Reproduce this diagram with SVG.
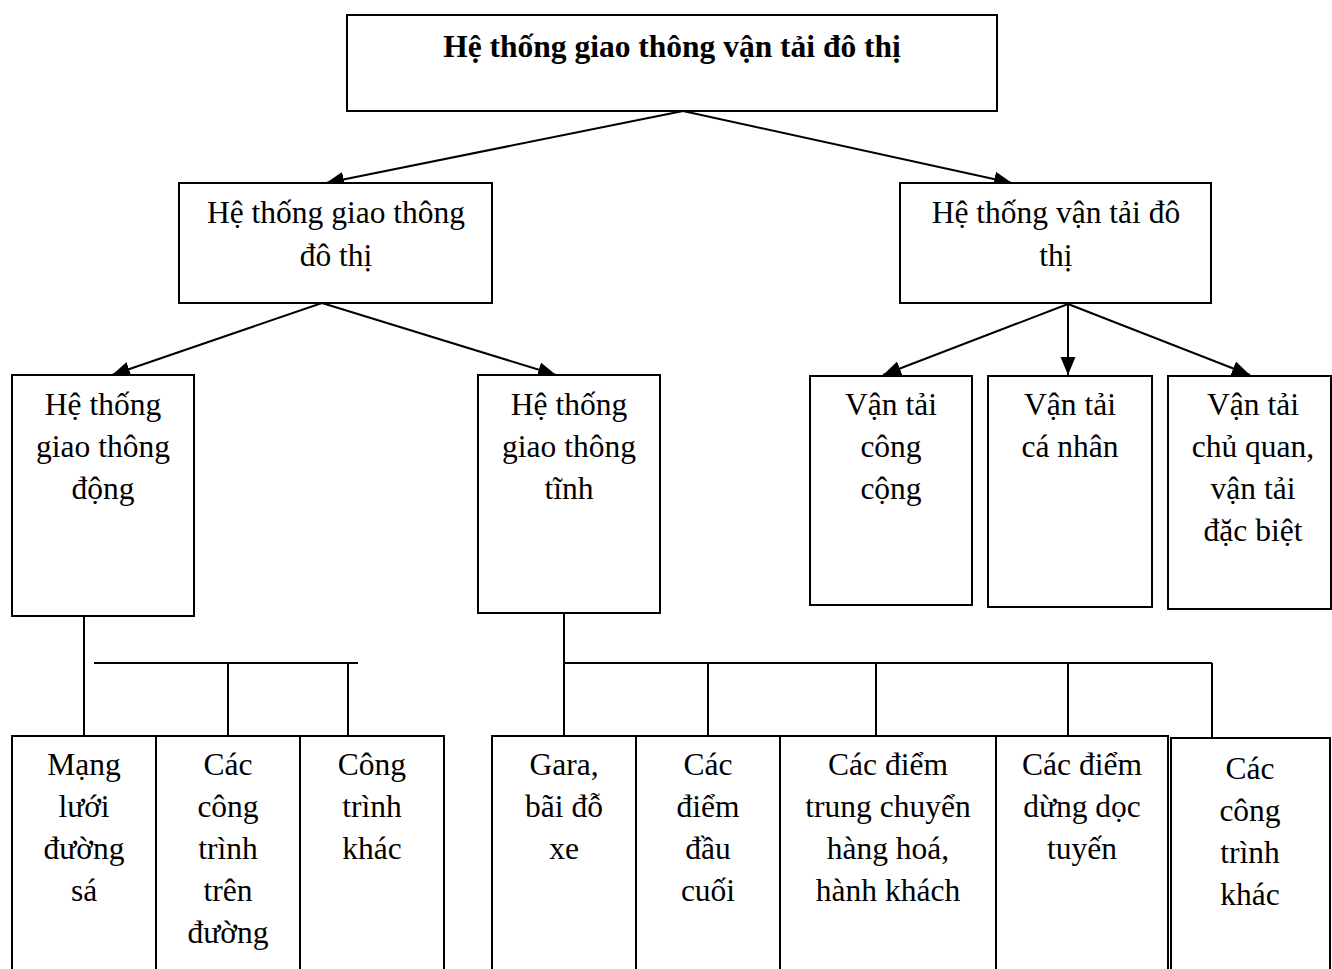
<svg xmlns="http://www.w3.org/2000/svg" width="1332" height="969" viewBox="0 0 1332 969">
<defs>
<marker id="arr" markerUnits="userSpaceOnUse" markerWidth="20" markerHeight="16" refX="18" refY="7.5" orient="auto">
<path d="M0,0 L18,7.5 L0,15 z" fill="#000"/>
</marker>
<style>
rect{fill:#fff;stroke:#000;stroke-width:2}
text{font-size:31.5px;fill:#000;text-anchor:middle}
.b{font-weight:bold}
.c line{stroke:#000;stroke-width:2;fill:none}
.a{marker-end:url(#arr)}
</style>
</defs>
<rect x="0" y="0" width="1332" height="969" style="stroke:none"/>
<g class="c" id="connectors">
<line class="a" x1="683" y1="111" x2="326" y2="183"/>
<line class="a" x1="683" y1="111" x2="1012" y2="183"/>
<line class="a" x1="322" y1="303" x2="112" y2="375"/>
<line class="a" x1="322" y1="303" x2="556" y2="375"/>
<line class="a" x1="1068" y1="304" x2="883" y2="375"/>
<line class="a" x1="1068" y1="304" x2="1068" y2="375"/>
<line class="a" x1="1068" y1="304" x2="1250" y2="375"/>
<line x1="84" y1="616" x2="84" y2="736"/>
<line x1="94" y1="663" x2="358" y2="663"/>
<line x1="228" y1="663" x2="228" y2="736"/>
<line x1="348" y1="663" x2="348" y2="736"/>
<line x1="564" y1="613" x2="564" y2="736"/>
<line x1="563" y1="663" x2="1212" y2="663"/>
<line x1="708" y1="663" x2="708" y2="736"/>
<line x1="876" y1="663" x2="876" y2="736"/>
<line x1="1068" y1="663" x2="1068" y2="736"/>
<line x1="1212" y1="663" x2="1212" y2="738"/>
</g>
<g font-family="Liberation Serif, Times New Roman, serif">
<g id="root"><rect x="347" y="15" width="650" height="96"/><text class="b" x="672" y="57">Hệ thống giao thông vận tải đô thị</text></g>
<g id="giaothong"><rect x="179" y="183" width="313" height="120"/><text x="336" y="223">Hệ thống giao thông</text><text x="336" y="266">đô thị</text></g>
<g id="vantai"><rect x="900" y="183" width="311" height="120"/><text x="1056" y="223">Hệ thống vận tải đô</text><text x="1056" y="266">thị</text></g>
<g id="dong"><rect x="12" y="375" width="182" height="241"/><text x="103" y="415">Hệ thống</text><text x="103" y="457">giao thông</text><text x="103" y="499">động</text></g>
<g id="tinh"><rect x="478" y="375" width="182" height="238"/><text x="569" y="415">Hệ thống</text><text x="569" y="457">giao thông</text><text x="569" y="499">tĩnh</text></g>
<g id="congcong"><rect x="810" y="376" width="162" height="229"/><text x="891" y="415">Vận tải</text><text x="891" y="457">công</text><text x="891" y="499">cộng</text></g>
<g id="canhan"><rect x="988" y="376" width="164" height="231"/><text x="1070" y="415">Vận tải</text><text x="1070" y="457">cá nhân</text></g>
<g id="chuquan"><rect x="1168" y="376" width="163" height="233"/><text x="1253" y="415">Vận tải</text><text x="1253" y="457">chủ quan,</text><text x="1253" y="499">vận tải</text><text x="1253" y="541">đặc biệt</text></g>
<g id="mangluoi"><rect x="12" y="736" width="144" height="250"/><text x="84" y="775">Mạng</text><text x="84" y="817">lưới</text><text x="84" y="859">đường</text><text x="84" y="901">sá</text></g>
<g id="congtrinhduong"><rect x="156" y="736" width="144" height="250"/><text x="228" y="775">Các</text><text x="228" y="817">công</text><text x="228" y="859">trình</text><text x="228" y="901">trên</text><text x="228" y="943">đường</text></g>
<g id="congtrinhkhac1"><rect x="300" y="736" width="144" height="250"/><text x="372" y="775">Công</text><text x="372" y="817">trình</text><text x="372" y="859">khác</text></g>
<g id="gara"><rect x="492" y="736" width="144" height="250"/><text x="564" y="775">Gara,</text><text x="564" y="817">bãi đỗ</text><text x="564" y="859">xe</text></g>
<g id="daucuoi"><rect x="636" y="736" width="144" height="250"/><text x="708" y="775">Các</text><text x="708" y="817">điểm</text><text x="708" y="859">đầu</text><text x="708" y="901">cuối</text></g>
<g id="trungchuyen"><rect x="780" y="736" width="216" height="250"/><text x="888" y="775">Các điểm</text><text x="888" y="817">trung chuyển</text><text x="888" y="859">hàng hoá,</text><text x="888" y="901">hành khách</text></g>
<g id="dungdoc"><rect x="996" y="736" width="172" height="250"/><text x="1082" y="775">Các điểm</text><text x="1082" y="817">dừng dọc</text><text x="1082" y="859">tuyến</text></g>
<g id="congtrinhkhac2"><rect x="1171" y="738" width="159" height="250"/><text x="1250" y="779">Các</text><text x="1250" y="821">công</text><text x="1250" y="863">trình</text><text x="1250" y="905">khác</text></g>
</g>
</svg>
